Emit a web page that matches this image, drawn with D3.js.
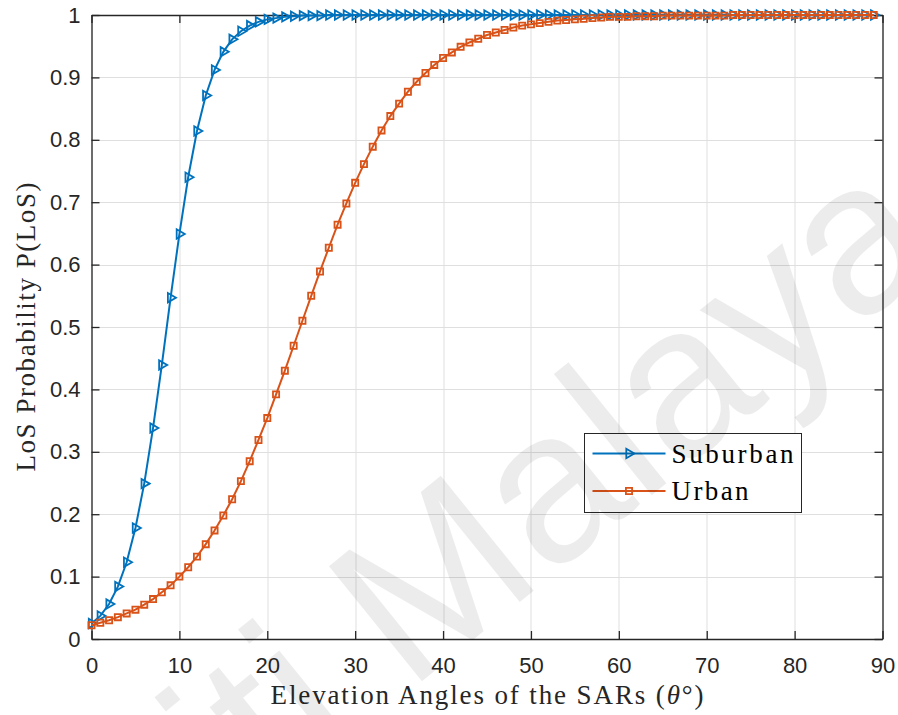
<!DOCTYPE html>
<html>
<head>
<meta charset="utf-8">
<script src="https://cdn.jsdelivr.net/npm/d3@7"></script>
<style>
  html, body { margin: 0; padding: 0; background: #fff; }
  svg { display: block; }
</style>
</head>
<body>
<svg id="chart" width="898" height="715"></svg>
<script>
// elevation angles (deg), one marker per degree
const angles = d3.range(0, 90);

// LoS probability, suburban environment
const suburban = [
  0.025, 0.037, 0.056, 0.084, 0.123, 0.178, 0.249, 0.338, 0.439, 0.547,
  0.649, 0.740, 0.814, 0.871, 0.912, 0.941, 0.961, 0.974, 0.983, 0.989,
  0.993, 0.995, 0.997, 0.998, 0.999, 0.999, 0.999, 1.000, 1.000, 1.000,
  1.000, 1.000, 1.000, 1.000, 1.000, 1.000, 1.000, 1.000, 1.000, 1.000,
  1.000, 1.000, 1.000, 1.000, 1.000, 1.000, 1.000, 1.000, 1.000, 1.000,
  1.000, 1.000, 1.000, 1.000, 1.000, 1.000, 1.000, 1.000, 1.000, 1.000,
  1.000, 1.000, 1.000, 1.000, 1.000, 1.000, 1.000, 1.000, 1.000, 1.000,
  1.000, 1.000, 1.000, 1.000, 1.000, 1.000, 1.000, 1.000, 1.000, 1.000,
  1.000, 1.000, 1.000, 1.000, 1.000, 1.000, 1.000, 1.000, 1.000, 1.000
];

// LoS probability, urban environment
const urban = [
  0.022, 0.026, 0.030, 0.035, 0.041, 0.047, 0.055, 0.064, 0.075, 0.086,
  0.100, 0.115, 0.132, 0.152, 0.174, 0.198, 0.224, 0.253, 0.285, 0.319,
  0.354, 0.392, 0.430, 0.470, 0.510, 0.550, 0.589, 0.627, 0.664, 0.698,
  0.731, 0.761, 0.789, 0.815, 0.838, 0.858, 0.877, 0.893, 0.907, 0.920,
  0.931, 0.940, 0.949, 0.956, 0.962, 0.968, 0.972, 0.976, 0.980, 0.983,
  0.985, 0.987, 0.989, 0.991, 0.992, 0.993, 0.994, 0.995, 0.996, 0.997,
  0.997, 0.997, 0.998, 0.998, 0.998, 0.999, 0.999, 0.999, 0.999, 0.999,
  0.999, 0.999, 0.999, 1.000, 1.000, 1.000, 1.000, 1.000, 1.000, 1.000,
  1.000, 1.000, 1.000, 1.000, 1.000, 1.000, 1.000, 1.000, 1.000, 1.000
];

const xTicks = [0, 10, 20, 30, 40, 50, 60, 70, 80, 90];
const yTicks = [0, 0.1, 0.2, 0.3, 0.4, 0.5, 0.6, 0.7, 0.8, 0.9, 1];

const seriesNames = ["Suburban", "Urban"];
const seriesColors = ["#0072BD", "#D95319"];

// layout
const svg = d3.select("#chart");
const margin = {top: 15, right: 15.5, bottom: 76, left: 91.5};
const width = 898 - margin.left - margin.right;
const height = 715 - margin.top - margin.bottom;
const axisColor = "#262626";
const tickFont = "'Liberation Sans', Arial, Helvetica, sans-serif";
const labelFont = "'Liberation Serif', 'Times New Roman', serif";

svg.append("rect").attr("width", 898).attr("height", 715).attr("fill", "#fff");

const g = svg.append("g").attr("transform", `translate(${margin.left},${margin.top})`);

const x = d3.scaleLinear().domain([0, 90]).range([0, width]);
const y = d3.scaleLinear().domain([0, 1]).range([height, 0]);

// grid
g.append("g").selectAll("line").data(xTicks).join("line")
  .attr("x1", d => Math.round(x(d)) + 0.5).attr("x2", d => Math.round(x(d)) + 0.5)
  .attr("y1", 0).attr("y2", height)
  .attr("stroke", "#dfdfdf").attr("stroke-width", 1);
g.append("g").selectAll("line").data(yTicks).join("line")
  .attr("x1", 0).attr("x2", width)
  .attr("y1", d => Math.round(y(d)) + 0.5).attr("y2", d => Math.round(y(d)) + 0.5)
  .attr("stroke", "#dfdfdf").attr("stroke-width", 1);

// axes (ticks point inward, box on)
const fmt = d3.format("~g");
function styleAxis(sel) {
  sel.selectAll(".domain").attr("stroke", axisColor).attr("stroke-width", 1.3);
  sel.selectAll(".tick line").attr("stroke", axisColor).attr("stroke-width", 1.3);
  sel.selectAll(".tick text").attr("fill", axisColor)
    .style("font-family", tickFont).style("font-size", "22px");
}
g.append("g").attr("transform", `translate(0,${height})`)
  .call(d3.axisBottom(x).tickValues(xTicks).tickFormat(fmt).tickSizeInner(-8).tickSizeOuter(0).tickPadding(18))
  .call(styleAxis);
g.append("g")
  .call(d3.axisLeft(y).tickValues(yTicks).tickFormat(fmt).tickSizeInner(-8).tickSizeOuter(0).tickPadding(11))
  .call(styleAxis);
g.append("g")
  .call(d3.axisTop(x).tickValues(xTicks).tickFormat("").tickSizeInner(-8).tickSizeOuter(0))
  .call(styleAxis);
g.append("g").attr("transform", `translate(${width},0)`)
  .call(d3.axisRight(y).tickValues(yTicks).tickFormat("").tickSizeInner(-8).tickSizeOuter(0))
  .call(styleAxis);

// series
const markerTypes = [
  d3.symbol().type(d3.symbolTriangle).size(38),
  d3.symbol().type(d3.symbolSquare).size(38)
];
const markerRotate = [90, 0];
[suburban, urban].forEach((vals, s) => {
  const pts = angles.map((a, i) => [a, vals[i]]);
  g.append("path").datum(pts)
    .attr("fill", "none").attr("stroke", seriesColors[s]).attr("stroke-width", 2)
    .attr("d", d3.line().x(d => x(d[0])).y(d => y(d[1])));
  g.append("g").selectAll("path").data(pts).join("path")
    .attr("d", markerTypes[s])
    .attr("transform", d => `translate(${x(d[0])},${y(d[1])}) rotate(${markerRotate[s]})`)
    .attr("fill", "none").attr("stroke", seriesColors[s]).attr("stroke-width", 1.8);
});

// axis titles
svg.append("text")
  .attr("x", margin.left + width / 2).attr("y", 704)
  .attr("text-anchor", "middle").attr("fill", axisColor)
  .attr("textLength", 433).attr("lengthAdjust", "spacing")
  .style("font-family", labelFont).style("font-size", "27px")
  .call(t => {
    t.append("tspan").text("Elevation Angles of the SARs (");
    t.append("tspan").style("font-style", "italic").text("θ");
    t.append("tspan").text("°)");
  });
svg.append("text")
  .attr("transform", `translate(35,${margin.top + height / 2}) rotate(-90)`)
  .attr("text-anchor", "middle").attr("fill", axisColor)
  .attr("textLength", 289).attr("lengthAdjust", "spacing")
  .style("font-family", labelFont).style("font-size", "27px")
  .text("LoS Probability P(LoS)");

// legend
const legendWidths = [122, 77];
const legend = svg.append("g").attr("transform", "translate(584.5,433.5)");
legend.append("rect").attr("width", 217).attr("height", 79)
  .attr("fill", "#fff").attr("stroke", axisColor).attr("stroke-width", 1);
seriesNames.forEach((name, s) => {
  const ly = 20 + s * 37.5;
  legend.append("line").attr("x1", 8).attr("x2", 81).attr("y1", ly).attr("y2", ly)
    .attr("stroke", seriesColors[s]).attr("stroke-width", 2);
  legend.append("path").attr("d", markerTypes[s])
    .attr("transform", `translate(44.5,${ly}) rotate(${markerRotate[s]})`)
    .attr("fill", "none").attr("stroke", seriesColors[s]).attr("stroke-width", 1.8);
  legend.append("text").attr("x", 87).attr("y", ly + 9)
    .attr("fill", "#000")
    .attr("textLength", legendWidths[s]).attr("lengthAdjust", "spacing")
    .style("font-family", labelFont).style("font-size", "27px")
    .text(name);
});

// faint watermark
svg.append("text")
  .attr("transform", "translate(947,256) rotate(-39)")
  .attr("text-anchor", "end")
  .attr("fill", "#000").attr("fill-opacity", 0.075)
  .style("font-family", tickFont).style("font-size", "215px")
  .text("Universiti Malaya");
</script>
</body>
</html>
